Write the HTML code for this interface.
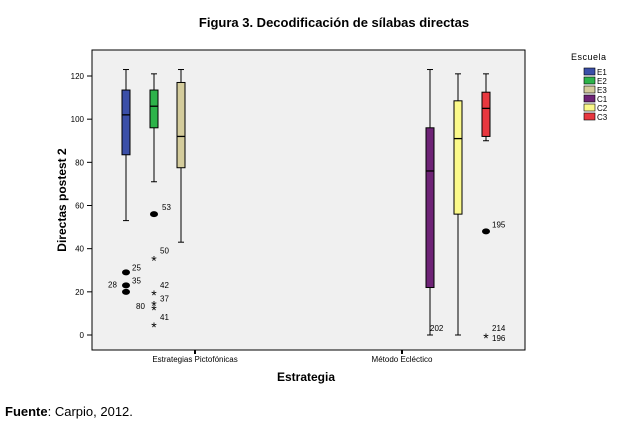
<!DOCTYPE html>
<html><head><meta charset="utf-8"><style>
body{margin:0;background:#fff;font-family:"Liberation Sans",sans-serif}
svg{display:block}
</style></head><body>
<svg width="625" height="427">
<text x="334" y="27" font-size="13" font-weight="bold" text-anchor="middle">Figura 3. Decodificación de sílabas directas</text>
<rect x="92" y="50" width="433" height="300" fill="#f0f0f0" stroke="#000" stroke-width="1"/>
<g id="yaxis"></g>
<g id="marks"></g>
<text transform="translate(66,200) rotate(-90)" font-size="12" font-weight="bold" text-anchor="middle">Directas postest 2</text>
<text x="195" y="362" font-size="8" text-anchor="middle">Estrategias Pictofónicas</text>
<text x="402" y="362" font-size="8" text-anchor="middle">Método Ecléctico</text>
<line x1="195" y1="350" x2="195" y2="354" stroke="#000" stroke-width="2"/>
<line x1="402" y1="350" x2="402" y2="354" stroke="#000" stroke-width="2"/>
<text x="306" y="381" font-size="12" font-weight="bold" text-anchor="middle">Estrategia</text>
<g id="legend">
<text x="571" y="60" font-size="9" letter-spacing="0.5">Escuela</text>
</g>
<text x="5" y="416" font-size="13"><tspan font-weight="bold">Fuente</tspan>: Carpio, 2012.</text>
</svg>
<script>
const groups=["E1","E2","E3","C1","C2","C3"];
const colors=["#3b4fa8","#2db34a","#d4cc9c","#6e2376","#fbf98a","#e8373f"];
const whiskerLow=[53,71,43,0,0,90];
const q1=[83.5,96,77.5,22,56,92];
const medians=[102,106,92,76,91,105];
const q3=[113.5,113.5,117,96,108.5,112.5];
const whiskerHigh=[123,121,123,123,121,121];
const outlierGroup=[0,0,0,1,1,1,1,1,1,5,5];
const outlierValue=[29,23,20,56,36,20,15,13,5,48,0];
const outlierType=["o","o","o","o","*","*","*","*","*","o","*"];
const yTicks=[0,20,40,60,80,100,120];
const labelGroup=[0,0,0,1,1,1,1,1,1,5,5,5,4];
const labelValue=[29,23,23,56,36,20,15,13,5,48,0,0,0];
const labelText=["25","35","28","53","50","42","37","80","41","195","214","196","202"];
const labelDx=[6,6,-18,8,6,6,6,-18,6,6,6,6,-28];
const labelDy=[-2,-2,2,-4,-4,-4,-1,2,-4,-4,-4,6,-4];
const NS="http://www.w3.org/2000/svg";
const y=v=>335-v*259/120;
const groupX=[126,154,181,430,458,486];
const xOf=i=>groupX[i];
function mk(t,a,p){const e=document.createElementNS(NS,t);for(const k in a)e.setAttribute(k,a[k]);p.appendChild(e);return e;}
const ya=document.getElementById('yaxis');
yTicks.forEach(t=>{
 const l=mk('line',{x1:87,x2:92,y1:y(t),y2:y(t),stroke:'#000'},ya);
 
 
 const tx=mk('text',{x:84,y:y(t)+3,'font-size':8,'text-anchor':'end'},ya);
 tx.textContent=t;
 
 
});
const g=document.getElementById('marks');
groups.forEach((n,i)=>{
 const x=xOf(i);
 const b=mk('g',{},g);
 
 
 mk('line',{x1:x,x2:x,y1:y(whiskerHigh[i]),y2:y(whiskerLow[i]),stroke:'#000'},b);
 mk('line',{x1:x-3,x2:x+3,y1:y(whiskerHigh[i]),y2:y(whiskerHigh[i]),stroke:'#000'},b);
 mk('line',{x1:x-3,x2:x+3,y1:y(whiskerLow[i]),y2:y(whiskerLow[i]),stroke:'#000'},b);
 mk('rect',{x:x-4,y:y(q3[i]),width:8,height:y(q1[i])-y(q3[i]),fill:colors[i],stroke:'#000'},b);
 mk('line',{x1:x-4,x2:x+4,y1:y(medians[i]),y2:y(medians[i]),stroke:'#000','stroke-width':1.3},b);
});
outlierValue.forEach((v,k)=>{
 const x=xOf(outlierGroup[k]);
 let e;
 if(outlierType[k]==="o"){e=mk('ellipse',{cx:x,cy:y(v),rx:4,ry:3,fill:'#000'},g);}
 else{e=mk('text',{x:x,y:y(v)+8,'font-size':14,'text-anchor':'middle'},g);e.textContent='*';}
 
 
});
labelText.forEach((t,k)=>{
 const e=mk('text',{x:xOf(labelGroup[k])+labelDx[k],y:y(labelValue[k])+labelDy[k],'font-size':8},g);
 e.textContent=t;
 
 
});
const lg=document.getElementById('legend');
groups.forEach((n,i)=>{
 const r=mk('rect',{x:584,y:68+i*9,width:11,height:7,fill:colors[i],stroke:'#000','stroke-width':0.6},lg);
 
 
 const t=mk('text',{x:597,y:75+i*9,'font-size':8},lg);
 t.textContent=n;
 
 
});
</script>
</body></html>
